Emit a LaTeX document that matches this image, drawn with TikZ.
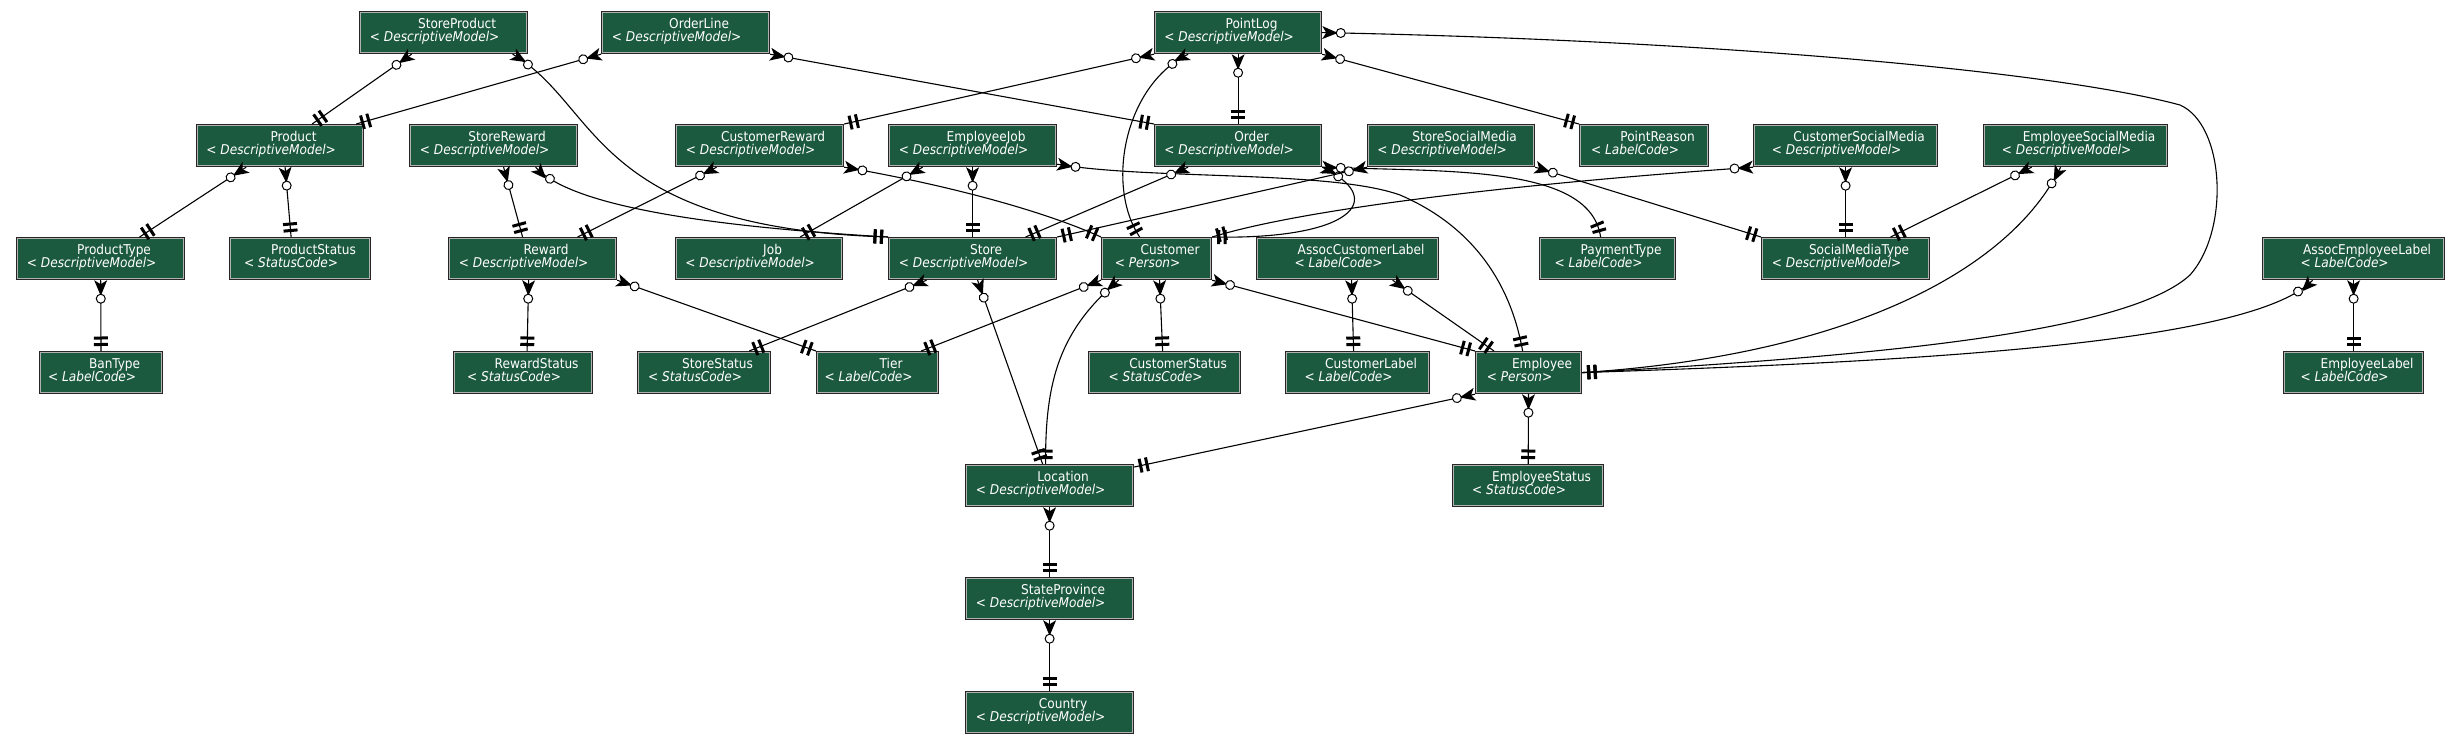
\documentclass[tikz,border=0pt]{standalone}
\usepackage{fontspec}
\usepackage{tikz}
\usetikzlibrary{decorations.markings}

\newfontfamily\erdfont{DejaVu Sans Condensed}
\definecolor{entgreen}{HTML}{1C5A40}

\tikzset{
  ent/.style={rectangle, draw=black!85, line width=1.2pt, fill=entgreen, minimum height=42pt, inner sep=0pt},
  entrim/.style={draw=gray!60, line width=0.9pt},
  enttitle/.style={font=\erdfont\fontsize{13.5pt}{14pt}\selectfont, text=white, anchor=base, inner sep=0pt},
  entkind/.style={enttitle},
  % zero-or-many at the start, exactly-one at the end
  rel/.style={line width=1.1pt, postaction={decorate}, decoration={markings,
    mark=at position 0.01pt with {\fill (0pt,6.5pt) -- (14pt,0.7pt) -- (14pt,-0.7pt) -- (0pt,-6.5pt) -- (4pt,0pt) -- cycle;},
    mark=at position 18.5pt with {\draw[fill=white, line width=1pt] (0,0) circle (4.5pt);},
    mark=at position -13pt with {\fill (-1.5pt,-7pt) rectangle (1.5pt,7pt);},
    mark=at position -6.5pt with {\fill (-1.5pt,-7pt) rectangle (1.5pt,7pt);}}},
}

% name, left, top, width, kind
\newcommand{\entity}[5]{
  \node[ent, minimum width=#4pt, anchor=north west] (#1) at (#2,#3) {};
  \draw[entrim] ([shift={(1.8pt,-1.8pt)}]#1.north west) rectangle ([shift={(-1.8pt,1.8pt)}]#1.south east);
  \node[enttitle] at ([xshift=13.5pt,yshift=-17.5pt]#1.north) {#1};
  \node[entkind] at ([xshift=-9pt,yshift=-30pt]#1.north) {<\ \textit{#5}>};
}

\begin{document}
\begin{tikzpicture}[x=1pt,y=-1pt]
        \useasboundingbox (0,0) rectangle (2460,744);

        \entity{StoreProduct}{359}{11}{168}{DescriptiveModel}
        \entity{OrderLine}{601}{11}{168}{DescriptiveModel}
        \entity{PointLog}{1154}{11}{167}{DescriptiveModel}

        \entity{Product}{196}{124}{167}{DescriptiveModel}
        \entity{StoreReward}{409}{124}{168}{DescriptiveModel}
        \entity{CustomerReward}{675}{124}{168}{DescriptiveModel}
        \entity{EmployeeJob}{888}{124}{168}{DescriptiveModel}
        \entity{Order}{1154}{124}{167}{DescriptiveModel}
        \entity{StoreSocialMedia}{1367}{124}{167}{DescriptiveModel}
        \entity{PointReason}{1579}{124}{129}{LabelCode}
        \entity{CustomerSocialMedia}{1753}{124}{184}{DescriptiveModel}
        \entity{EmployeeSocialMedia}{1983}{124}{184}{DescriptiveModel}

        \entity{ProductType}{16}{237}{168}{DescriptiveModel}
        \entity{ProductStatus}{229}{237}{141}{StatusCode}
        \entity{Reward}{448}{237}{168}{DescriptiveModel}
        \entity{Job}{675}{237}{167}{DescriptiveModel}
        \entity{Store}{888}{237}{168}{DescriptiveModel}
        \entity{Customer}{1101}{237}{110}{Person}
        \entity{AssocCustomerLabel}{1256}{237}{182}{LabelCode}
        \entity{PaymentType}{1539}{237}{136}{LabelCode}
        \entity{SocialMediaType}{1761}{237}{168}{DescriptiveModel}
        \entity{AssocEmployeeLabel}{2262}{237}{182}{LabelCode}

        \entity{BanType}{39}{351}{123}{LabelCode}
        \entity{RewardStatus}{453}{351}{139}{StatusCode}
        \entity{StoreStatus}{637}{351}{133}{StatusCode}
        \entity{Tier}{816}{351}{122}{LabelCode}
        \entity{CustomerStatus}{1088}{351}{152}{StatusCode}
        \entity{CustomerLabel}{1285}{351}{144}{LabelCode}
        \entity{Employee}{1475}{351}{106}{Person}
        \entity{EmployeeLabel}{2283}{351}{140}{LabelCode}

        \entity{Location}{965}{464}{168}{DescriptiveModel}
        \entity{EmployeeStatus}{1452}{464}{151}{StatusCode}
        \entity{StateProvince}{965}{577}{168}{DescriptiveModel}
        \entity{Country}{965}{691}{168}{DescriptiveModel}

        % relations: many side first, one side last
        \draw[rel] ([xshift=-32pt]StoreProduct.south) -- ([xshift=32pt]Product.north);
        \draw[rel] ([xshift=69pt]StoreProduct.south) .. controls (600,105) and (590,228) .. (Store.north west);
        \draw[rel] (OrderLine.south west) -- ([xshift=-8pt]Product.north east);
        \draw[rel] (OrderLine.south east) -- (Order.north west);
        \draw[rel] (PointLog.south west) -- (CustomerReward.north east);
        \draw[rel] ([xshift=-50pt]PointLog.south) .. controls (1125,85) and (1105,185) .. ([xshift=-17pt]Customer.north);
        \draw[rel] (PointLog) -- (Order);
        \draw[rel] (PointLog.south east) -- (PointReason.north west);
        \draw[rel] (PointLog.east) .. controls (1700,40) and (2050,70) .. (2180,105)
                .. controls (2225,125) and (2230,230) .. (2190,275)
                .. controls (2130,330) and (1900,355) .. (Employee.east);

        \draw[rel] ([xshift=-34pt]Product.south) -- ([xshift=39pt]ProductType.north);
        \draw[rel] ([xshift=5pt]Product.south) -- ([xshift=-9pt]ProductStatus.north);
        \draw[rel] (ProductType) -- (BanType);
        \draw[rel] ([xshift=10pt]StoreReward.south) -- ([xshift=-10pt]Reward.north);
        \draw[rel] ([xshift=42pt]StoreReward.south) .. controls (570,205) and (700,226) .. (Store.north west);
        \draw[rel] ([xshift=-43pt]CustomerReward.south) -- ([xshift=45pt]Reward.north);
        \draw[rel] (CustomerReward.south east) .. controls (920,180) and (1030,205) .. (Customer.north west);
        \draw[rel] ([xshift=-50pt]EmployeeJob.south) -- ([xshift=41pt]Job.north);
        \draw[rel] (EmployeeJob) -- (Store);
        \draw[rel] ([yshift=3pt]EmployeeJob.south east) .. controls (1150,180) and (1330,170) .. (1400,195)
                .. controls (1470,225) and (1510,280) .. ([xshift=-6pt]Employee.north);
        \draw[rel] ([xshift=-50pt]Order.south) -- ([xshift=53pt]Store.north);
        \draw[rel] (Order.south east) .. controls (1450,172) and (1590,165) .. ([xshift=-7pt]PaymentType.north);
        \draw[rel] (Order.south east) .. controls (1390,200) and (1350,240) .. (Customer.north east);
        \draw[rel] (StoreSocialMedia.south west) -- (Store.north east);
        \draw[rel] (StoreSocialMedia.south east) -- (SocialMediaType.north west);
        \draw[rel] (CustomerSocialMedia.south west) .. controls (1500,185) and (1300,210) .. (Customer.north east);
        \draw[rel] (CustomerSocialMedia) -- (SocialMediaType);
        \draw[rel] ([xshift=-44pt]EmployeeSocialMedia.south) -- ([xshift=45pt]SocialMediaType.north);
        \draw[rel] ([xshift=-15pt]EmployeeSocialMedia.south) .. controls (2010,270) and (1850,355) .. (Employee.east);

        \draw[rel] ([xshift=-4pt]Reward.south) -- ([xshift=4pt]RewardStatus.north);
        \draw[rel] (Reward.south east) -- (Tier.north west);
        \draw[rel] ([xshift=-46pt]Store.south) -- ([xshift=-22pt]StoreStatus.north east);
        \draw[rel] ([xshift=5pt]Store.south) -- ([xshift=-7pt]Location.north);
        \draw[rel] (Customer.south west) -- ([xshift=-18pt]Tier.north east);
        \draw[rel] ([xshift=-38pt]Customer.south) .. controls (1060,330) and (1045,380) .. ([xshift=-4pt]Location.north);
        \draw[rel] ([xshift=3pt]Customer.south) -- ([xshift=-2pt]CustomerStatus.north);
        \draw[rel] (Customer.south east) -- (Employee.north west);
        \draw[rel] ([xshift=4pt]AssocCustomerLabel.south) -- ([xshift=-4pt]CustomerLabel.north);
        \draw[rel] ([xshift=45pt]AssocCustomerLabel.south) -- ([xshift=19pt]Employee.north west);
        \draw[rel] ([xshift=-41pt]AssocEmployeeLabel.south) .. controls (2250,345) and (1900,362) .. (Employee.east);
        \draw[rel] (AssocEmployeeLabel) -- (EmployeeLabel);

        \draw[rel] (Employee.south west) -- ([yshift=-3pt]Location.north east);
        \draw[rel] (Employee) -- (EmployeeStatus);
        \draw[rel] (Location) -- (StateProvince);
        \draw[rel] (StateProvince) -- (Country);
\end{tikzpicture}
\end{document}
